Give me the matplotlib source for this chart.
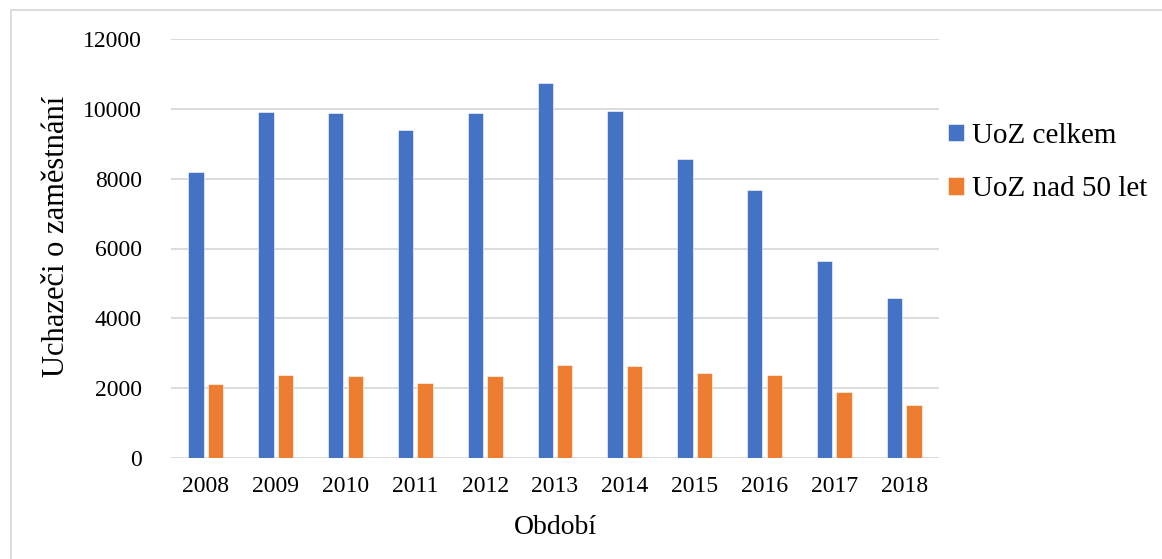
import numpy as np
import matplotlib.pyplot as plt
from matplotlib.patches import Rectangle

plt.rcParams['font.family'] = ['Liberation Serif', 'DejaVu Serif']

# data
roky = ['2008', '2009', '2010', '2011', '2012', '2013', '2014', '2015', '2016', '2017', '2018']
uoz_celkem = [8180, 9900, 9870, 9400, 9890, 10730, 9940, 8560, 7685, 5640, 4570]
uoz_nad_50 = [2120, 2370, 2340, 2140, 2340, 2650, 2640, 2425, 2370, 1890, 1510]

W, H = 1162, 559
fig = plt.figure(figsize=(W / 100, H / 100), dpi=100)
ax = fig.add_axes([171 / W, 1 - 458 / H, (939 - 171) / W, (458 - 39) / H])

x = np.arange(len(roky))
sirka = 0.22
ax.bar(x - 0.14, uoz_celkem, sirka, color='#4472C4', edgecolor='white', linewidth=0.4,
       label='UoZ celkem', zorder=3)
ax.bar(x + 0.14, uoz_nad_50, sirka, color='#ED7D31', edgecolor='white', linewidth=0.4,
       label='UoZ nad 50 let', zorder=3)

ax.set_xlim(-0.5, len(roky) - 0.5)
ax.set_ylim(0, 12000)
ax.set_yticks(range(0, 12001, 2000))
ax.set_xticks(x)
ax.set_xticklabels(roky)
ax.yaxis.grid(True, color='#D9D9D9', linewidth=1.3, zorder=0)
for s in ax.spines.values():
    s.set_visible(False)
ax.tick_params(axis='both', length=0, labelsize=17, colors='black')
ax.tick_params(axis='y', pad=21)
ax.tick_params(axis='x', pad=13)

ax.set_xlabel('Období', fontsize=20, labelpad=13)
# popisek osy y je v originale mirne nad stredem
fig.text(57 / W, 1 - 236 / H, 'Uchazeči o zaměstnání', fontsize=22,
         rotation=90, ha='center', va='center')

leg = ax.legend(loc='upper left', bbox_to_anchor=(936 / W, 1 - 111 / H),
                bbox_transform=fig.transFigure, frameon=False, fontsize=21,
                handlelength=0.55, handleheight=0.55, handletextpad=0.3,
                labelspacing=0.95, borderaxespad=0)

# outer chart border
fig.patches.append(Rectangle((11 / W, -0.1), 1.2, 1 - 10 / H + 0.1,
                             transform=fig.transFigure, fill=False,
                             edgecolor='#D9D9D9', linewidth=1.3))

fig.savefig('out.png', dpi=100)
